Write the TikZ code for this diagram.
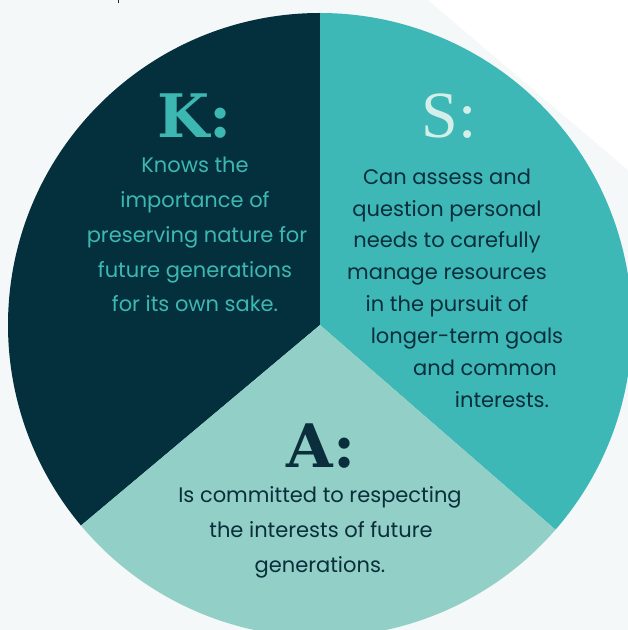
\documentclass[tikz,border=0pt]{standalone}
\usepackage{fontspec}
\setmainfont{Poppins}
\newfontfamily\slabfont{DejaVu Serif}
\newfontfamily\thinserif{Liberation Serif}

\definecolor{bgcol}{HTML}{F4F8F9}
\definecolor{kfill}{HTML}{04303D}
\definecolor{sfill}{HTML}{3DB8B6}
\definecolor{afill}{HTML}{92CFC7}
\definecolor{kink}{HTML}{3DB7B2}
\definecolor{sink}{HTML}{D4EEEA}
\definecolor{darkink}{HTML}{0A2E3B}

\tikzset{
  headline/.style={anchor=base, inner sep=0pt, font=\slabfont\bfseries\fontsize{60}{60}\selectfont},
  bodyline/.style={anchor=base, inner sep=0pt, font=\fontsize{21}{21}\selectfont},
}

\begin{document}
\begin{tikzpicture}[x=1pt,y=1pt]
\useasboundingbox (0,0) rectangle (628,630);
\fill[bgcol] (0,0) rectangle (628,630);
\fill[white] (428,630) -- (628,630) -- (628,460) -- cycle;
% tail of the line above, cut off by the page edge
\draw[black!85, line width=1.8pt] (118.5,630) -- (118.5,626.5);

% the three sectors
\coordinate (c) at (320,305);
\fill[kfill] (c) -- ++(90:312) arc[start angle=90, end angle=220, radius=312] -- cycle;
\fill[sfill] (c) -- ++(-41:312) arc[start angle=-41, end angle=90, radius=312] -- cycle;
\fill[afill] (c) -- ++(220:312) arc[start angle=220, end angle=319, radius=312] -- cycle;

% K
\node[headline, text=kink] (khead) at (195,492) {K:};
\node[bodyline, text=kink] (k1) at (195,457) {Knows the};
\node[bodyline, text=kink] (k2) at (195,422) {importance of};
\node[bodyline, text=kink] (k3) at (197,387) {preserving nature for};
\node[bodyline, text=kink] (k4) at (195,352) {future generations};
\node[bodyline, text=kink] (k5) at (195,318) {for its own sake.};

% S
\node[headline, text=sink, font=\thinserif\fontsize{66}{66}\selectfont] (shead) at (449,492) {S:};
\node[bodyline, text=darkink] (s1) at (447,445) {Can assess and};
\node[bodyline, text=darkink] (s2) at (447,413) {question personal};
\node[bodyline, text=darkink] (s3) at (447,382) {needs to carefully};
\node[bodyline, text=darkink] (s4) at (447,350) {manage resources};
\node[bodyline, text=darkink] (s5) at (447,318) {in the pursuit of};
\node[bodyline, text=darkink] (s6) at (467,286) {longer-term goals};
\node[bodyline, text=darkink] (s7) at (485,254) {and common};
\node[bodyline, text=darkink] (s8) at (502,222) {interests.};

% A
\node[headline, text=darkink] (ahead) at (321,162) {A:};
\node[bodyline, text=darkink] (a1) at (320,127) {Is committed to respecting};
\node[bodyline, text=darkink] (a2) at (321,92) {the interests of future};
\node[bodyline, text=darkink] (a3) at (320,57) {generations.};
\end{tikzpicture}
\end{document}
